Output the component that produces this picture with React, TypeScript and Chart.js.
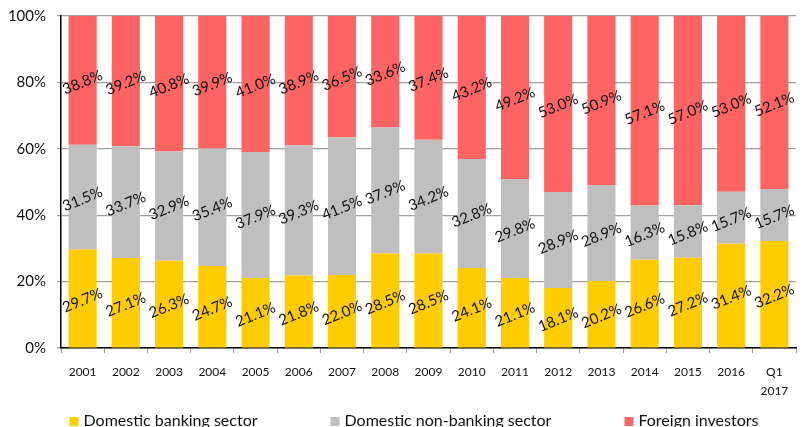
import React, { useEffect, useRef } from "react";
import { Chart, registerables } from "chart.js";

Chart.register(...registerables);

const FONT = "Lato, 'Open Sans', sans-serif";

const categories: (string | string[])[] = [
  "2001", "2002", "2003", "2004", "2005", "2006", "2007", "2008", "2009",
  "2010", "2011", "2012", "2013", "2014", "2015", "2016", ["Q1", "2017"],
];

const domesticBanking = [29.7, 27.1, 26.3, 24.7, 21.1, 21.8, 22.0, 28.5, 28.5, 24.1, 21.1, 18.1, 20.2, 26.6, 27.2, 31.4, 32.2];
const domesticNonBanking = [31.5, 33.7, 32.9, 35.4, 37.9, 39.3, 41.5, 37.9, 34.2, 32.8, 29.8, 28.9, 28.9, 16.3, 15.8, 15.7, 15.7];
const foreignInvestors = [38.8, 39.2, 40.8, 39.9, 41.0, 38.9, 36.5, 33.6, 37.4, 43.2, 49.2, 53.0, 50.9, 57.1, 57.0, 53.0, 52.1];

const seriesNames = ["Domestic banking sector", "Domestic non-banking sector", "Foreign investors"];
const seriesColors = ["#FFCC00", "#BFBFBF", "#FF6464"];

// Rotated percentage labels centred on every stacked segment
const segmentLabels = {
  id: "segmentLabels",
  afterDatasetsDraw(chart: any) {
    const ctx = chart.ctx;
    ctx.save();
    ctx.font = `15px ${FONT}`;
    ctx.fillStyle = "#111";
    ctx.textAlign = "center";
    ctx.textBaseline = "middle";
    chart.data.datasets.forEach((ds: any, di: number) => {
      const meta = chart.getDatasetMeta(di);
      meta.data.forEach((bar: any, i: number) => {
        const v = ds.data[i] as number;
        const cy = (bar.y + bar.base) / 2 + 2;
        ctx.save();
        ctx.translate(bar.x, cy);
        ctx.rotate((-22 * Math.PI) / 180);
        ctx.fillText(`${v.toFixed(1)}%`, 0, 0);
        ctx.restore();
      });
    });
    ctx.restore();
  },
};

// Legend row along the bottom edge
const bottomLegend = {
  id: "bottomLegend",
  afterDraw(chart: any) {
    const ctx = chart.ctx;
    ctx.save();
    ctx.font = `16px ${FONT}`;
    ctx.textBaseline = "alphabetic";
    ctx.textAlign = "left";
    const box = 9;
    const boxGap = 5;
    const itemGap = 73;
    const widths = seriesNames.map((n) => box + boxGap + ctx.measureText(n).width);
    const total = widths.reduce((a, b) => a + b, 0) + itemGap * (widths.length - 1);
    let x = 414 - total / 2;
    seriesNames.forEach((name, i) => {
      ctx.fillStyle = seriesColors[i];
      ctx.fillRect(x, 417, box, box);
      ctx.fillStyle = "#111";
      ctx.fillText(name, x + box + boxGap, 426);
      x += widths[i] + itemGap;
    });
    ctx.restore();
  },
};

export default function App() {
  const canvasRef = useRef<HTMLCanvasElement | null>(null);

  useEffect(() => {
    if (!canvasRef.current) return;
    const values = [domesticBanking, domesticNonBanking, foreignInvestors];
    const chart = new Chart(canvasRef.current, {
      type: "bar",
      data: {
        labels: categories,
        datasets: seriesNames.map((name, i) => ({
          label: name,
          data: values[i],
          backgroundColor: seriesColors[i],
          borderWidth: 0,
          barPercentage: 0.65,
          categoryPercentage: 1,
        })),
      },
      options: {
        animation: false,
        responsive: false,
        maintainAspectRatio: false,
        layout: { padding: { top: 16, right: 12, bottom: 0, left: 0 } },
        plugins: {
          legend: { display: false },
          tooltip: { enabled: false },
        },
        scales: {
          x: {
            stacked: true,
            grid: {
              drawOnChartArea: false,
              drawTicks: true,
              tickLength: 5,
              tickColor: "#9A9A9A",
            },
            border: { display: true, color: "#000", width: 1.5 },
            ticks: {
              color: "#111",
              padding: 10,
              maxRotation: 0,
              autoSkip: false,
              font: { family: FONT, size: 12, lineHeight: 1.55 },
            },
            afterFit: (scale: any) => {
              scale.height = 79;
            },
          },
          y: {
            stacked: true,
            min: 0,
            max: 100,
            grid: {
              color: "#A0A0A0",
              lineWidth: 1.2,
              drawTicks: true,
              tickLength: 4,
              tickColor: "#A0A0A0",
            },
            border: { display: true, color: "#000", width: 1.5 },
            ticks: {
              stepSize: 20,
              color: "#111",
              padding: 11,
              font: { family: FONT, size: 15 },
              callback: (v: any) => `${v}%`,
            },
            afterFit: (scale: any) => {
              scale.width = 61;
              scale.paddingTop = 0;
              scale.paddingBottom = 0;
            },
          },
        },
      },
      plugins: [segmentLabels, bottomLegend],
    });
    return () => chart.destroy();
  }, []);

  return (
    <div style={{ position: "absolute", left: 0, top: 0, width: 808, height: 427, background: "#fff" }}>
      <canvas ref={canvasRef} width={808} height={427} style={{ display: "block" }} />
    </div>
  );
}
